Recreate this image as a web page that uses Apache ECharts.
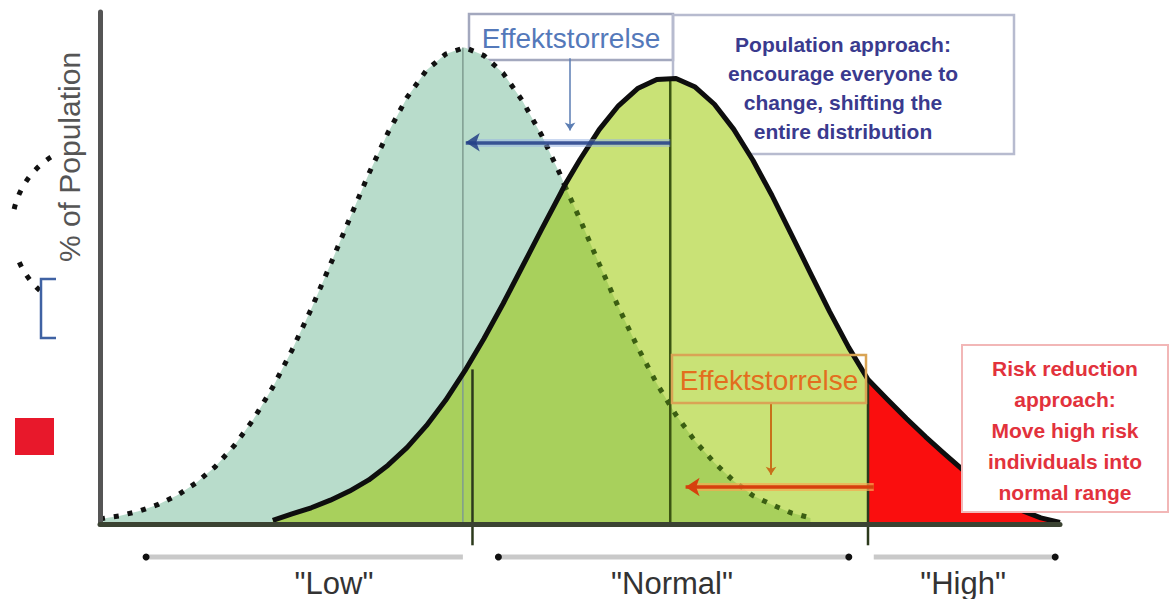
<!DOCTYPE html>
<html><head><meta charset="utf-8">
<script src="https://cdn.jsdelivr.net/npm/echarts@6/dist/echarts.min.js"></script>
<style>html,body{margin:0;padding:0;background:#fff}#c{width:1172px;height:599px}</style>
</head><body><div id="c"></div>
<script>
// ---- data (x: 0..100 risk scale, y: % of population, arbitrary units) ----
const xValues = [0,2,4,6,8,10,12,14,16,18,20,22,24,26,28,30,32,34,36,38,40,42,44,46,48,48.4,50,52,54,56,58,60,62,64,66,68,70,72,74,76,78,80,82,84,86,88,90,92,94,96,98,100];
// shifted (new) distribution — dotted curve
const shiftedPct = [1.0,1.6,2.5,3.8,5.6,8.1,11.3,15.5,20.7,27.0,34.3,42.4,51.2,60.2,69.1,77.2,84.2,89.5,92.7,94.0,92.4,88.9,83.5,76.7,68.7,66.8,60.1,51.3,42.8,34.9,27.7,21.5,16.3,12.1,8.5,5.6,3.8,2.2,1.2,null,null,null,null,null,null,null,null,null,null,null,null,null];
// current distribution — solid curve
const currentPct = [null,null,null,null,null,null,null,null,null,0.7,2.0,3.2,4.7,6.5,8.7,11.6,15.1,19.4,24.4,30.2,36.6,43.5,50.8,58.1,65.3,66.8,71.9,77.8,82.5,85.9,87.7,87.9,86.2,82.8,77.9,71.8,64.8,57.2,49.5,41.9,34.8,28.5,24.6,20.8,17.2,13.8,10.5,7.4,4.8,2.7,1.2,0.3];
const crossX = 48.4;
const peakX = [37.8, 59.4];
const peakPct = [94.0, 88.0];
const cutoffX = [38.8, 80.0];
const cutoffPct = [30.5, 28.5];
const rangeLabels = ['"Low"', '"Normal"', '"High"'];
const rangeFrom = [4.8, 41.5, 80.6];
const rangeTo = [37.8, 78.0, 99.5];
const yAxisTitle = '% of Population';
const effectLabel = 'Effektstorrelse';
const populationText = ['Population approach:', 'encourage everyone to', 'change, shifting the', 'entire distribution'];
const riskText = ['Risk reduction', 'approach:', 'Move high risk', 'individuals into', 'normal range'];
const populationShiftX = [59.4, 38.1];
const populationShiftPct = 75.3;
const riskShiftX = [80.6, 61.0];
const riskShiftPct = 7.3;

// ---- build ----
const FONT = '"Liberation Sans", Arial, sans-serif';
const pairs = arr => xValues.map((x, i) => [x, arr[i]]).filter(p => p[1] != null);
const shifted = pairs(shiftedPct);
const current = pairs(currentPct);
const overlap = xValues.map((x, i) => (shiftedPct[i] != null && currentPct[i] != null) ? [x, Math.min(shiftedPct[i], currentPct[i])] : null).filter(Boolean);

const area = (data, color) => ({type: 'line', data, symbol: 'none', silent: true,
  lineStyle: {width: 0, opacity: 0}, areaStyle: {color, opacity: 1}});
const seg = (data, color, width, extra) => Object.assign({type: 'line', data, symbol: 'none', silent: true, clip: false,
  lineStyle: {color, width, join: 'round'}}, extra || {});
const arrow = (from, to, color, width, size) => ({
  type: 'line', data: [from, to], symbol: 'none', silent: true, lineStyle: {opacity: 0},
  markLine: {silent: true, animation: false, symbol: ['none', size ? 'arrow' : 'none'], symbolSize: size || 1,
    label: {show: false}, lineStyle: {type: 'solid', color, width, opacity: 1},
    itemStyle: {color},
    data: [[{coord: from}, {coord: to}]]}
});

const series = [
  area(shifted, '#b8dccb'),
  area(current, '#c9e276'),
  area(overlap, '#a8d05c'),
  area(current.filter(p => p[0] >= cutoffX[1]), '#fa0e0e'),
  seg([[peakX[0], 0], [peakX[0], peakPct[0]]], '#7f9c90', 1.5),
  seg([[peakX[1], 0], [peakX[1], peakPct[1]]], '#3b5512', 2.5),
  seg([[cutoffX[0], -4.2], [cutoffX[0], cutoffPct[0]]], '#2c3a1c', 2.5),
  seg([[cutoffX[1], -4.2], [cutoffX[1], cutoffPct[1]]], '#2c3a1c', 2.5),
  seg(shifted.filter(p => p[0] <= crossX), '#111', 5, {lineStyle: {color: '#111', width: 5, type: [5, 9], cap: 'butt'}}),
  seg(shifted.filter(p => p[0] >= crossX), '#3b5e12', 5, {lineStyle: {color: '#3b5e12', width: 5, type: [5, 9], cap: 'butt'}}),
  seg(current, '#0e0e0e', 5),
  arrow([populationShiftX[0], populationShiftPct], [populationShiftX[1] + 1.0, populationShiftPct], 'rgba(150,178,228,0.5)', 8, 0),
  arrow([populationShiftX[0], populationShiftPct], [populationShiftX[1], populationShiftPct], 'rgba(35,62,135,0.85)', 3.5, 14),
  arrow([48.96, 91.9], [48.96, 77.6], '#5b7db3', 1.5, 8),
  arrow([riskShiftX[0], riskShiftPct], [riskShiftX[1] + 1.0, riskShiftPct], 'rgba(246,168,80,0.7)', 8, 0),
  arrow([riskShiftX[0], riskShiftPct], [riskShiftX[1], riskShiftPct], '#d6400e', 3.5, 14),
  arrow([69.9, 23.9], [69.9, 9.7], '#c8701a', 2, 8)
];
rangeLabels.forEach((l, i) => {
  const dots = [[true, false], [true, true], [false, true]][i];
  series.push({type: 'line', silent: true, clip: false, lineStyle: {color: '#c9c9c9', width: 5},
    data: [
      {value: [rangeFrom[i], -6.5], symbol: dots[0] ? 'circle' : 'none', symbolSize: 7, itemStyle: {color: '#111'}},
      {value: [rangeTo[i], -6.5], symbol: dots[1] ? 'circle' : 'none', symbolSize: 7, itemStyle: {color: '#111'}}
    ]});
});

const deg = Math.PI / 180;
const graphics = [
  // cropped legend symbols on the left
  {type: 'arc', shape: {cx: 96, cy: 228, r: 84, startAngle: 132 * deg, endAngle: 160 * deg}, style: {stroke: '#111', lineWidth: 5, lineDash: [5, 10], fill: 'none'}, z: 50},
  {type: 'arc', shape: {cx: 96, cy: 228, r: 84, startAngle: 193 * deg, endAngle: 240 * deg}, style: {stroke: '#111', lineWidth: 5, lineDash: [5, 10], fill: 'none'}, z: 50},
  {type: 'polyline', shape: {points: [[56, 279], [41, 279], [41, 338], [56, 338]]}, style: {stroke: '#3f62a3', lineWidth: 2.5, fill: 'none'}, z: 50},
  {type: 'rect', shape: {x: 15, y: 418, width: 39, height: 37}, style: {fill: '#e8182b'}, z: 50},
  // y axis title
  {type: 'text', x: 69, y: 157, rotation: Math.PI / 2, style: {text: yAxisTitle, font: '30px ' + FONT, fill: '#555', align: 'center', verticalAlign: 'middle'}, z: 50},
  // population approach boxes
  {type: 'rect', shape: {x: 469, y: 14, width: 204, height: 46}, style: {fill: 'none', stroke: '#a3a8be', lineWidth: 2.5}, z: 0},
  {type: 'text', x: 571, y: 38, style: {text: effectLabel, font: '28px ' + FONT, fill: '#5479ba', align: 'center', verticalAlign: 'middle'}, z: 50},
  {type: 'rect', shape: {x: 673, y: 15, width: 341, height: 139}, style: {fill: 'none', stroke: '#b7bbcf', lineWidth: 2.5}, z: 0},
  // risk reduction boxes
  {type: 'rect', shape: {x: 672, y: 355, width: 194, height: 48}, style: {fill: 'none', stroke: '#d9a455', lineWidth: 2.5}, z: 50},
  {type: 'text', x: 769, y: 380, style: {text: effectLabel, font: '28px ' + FONT, fill: '#e36e1e', align: 'center', verticalAlign: 'middle'}, z: 50},
  {type: 'rect', shape: {x: 962, y: 345, width: 206, height: 167}, style: {fill: '#fff', stroke: '#f2b7b7', lineWidth: 2}, z: 50}
];
populationText.forEach((t, i) => graphics.push({type: 'text', x: 843, y: 44 + i * 29,
  style: {text: t, font: 'bold 21px ' + FONT, fill: '#3a3a8e', align: 'center', verticalAlign: 'middle'}, z: 50}));
riskText.forEach((t, i) => graphics.push({type: 'text', x: 1065, y: 368 + i * 31,
  style: {text: t, font: 'bold 21px ' + FONT, fill: '#e2323c', align: 'center', verticalAlign: 'middle'}, z: 60}));
const labelPx = [334, 672, 963];
rangeLabels.forEach((t, i) => graphics.push({type: 'text', x: labelPx[i], y: 583,
  style: {text: t, font: '31px ' + FONT, fill: '#333', align: 'center', verticalAlign: 'middle'}, z: 50}));

const chart = echarts.init(document.getElementById('c'), null, {renderer: 'svg'});
chart.setOption({
  animation: false,
  backgroundColor: '#fff',
  grid: {left: 100, right: 112, top: 12, bottom: 75},
  xAxis: {type: 'value', min: 0, max: 100, z: 5, axisLine: {show: true, lineStyle: {color: '#3b4332', width: 5}},
    axisTick: {show: false}, axisLabel: {show: false}, splitLine: {show: false}},
  yAxis: {type: 'value', min: 0, max: 101, z: 5, axisLine: {show: true, lineStyle: {color: '#555', width: 5}},
    axisTick: {show: false}, axisLabel: {show: false}, splitLine: {show: false}},
  series,
  graphic: {elements: graphics}
});
</script></body></html>
